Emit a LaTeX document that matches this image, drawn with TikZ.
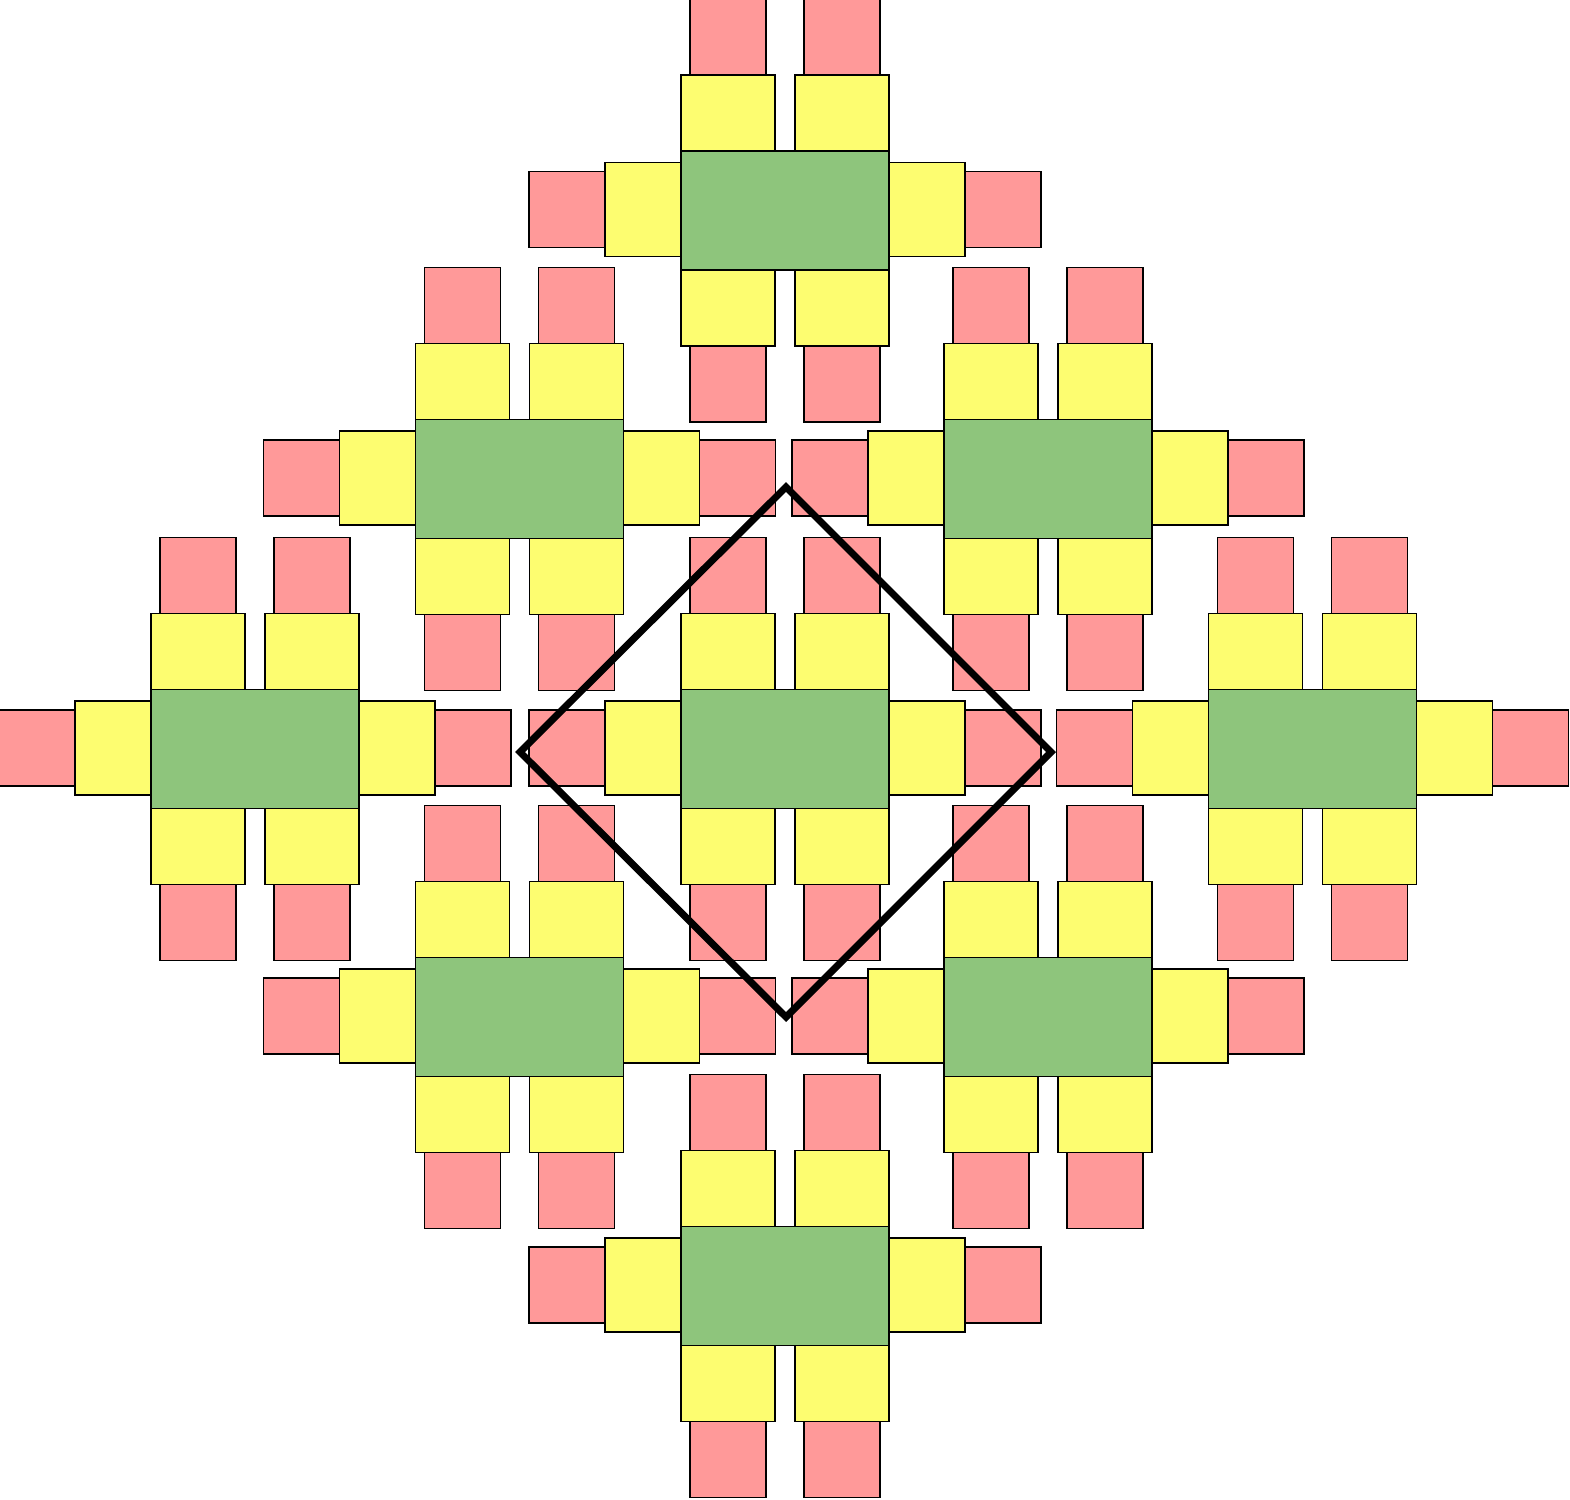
\documentclass[tikz,border=0pt]{standalone}
\usepackage{tikz}
\usetikzlibrary{positioning,calc}
\definecolor{tablegreen}{RGB}{142,197,124}
\definecolor{chairyellow}{RGB}{253,253,112}
\definecolor{stoolpink}{RGB}{255,153,153}
\begin{document}
\begin{tikzpicture}[x=0.01cm,y=-0.01cm]
\tikzstyle{tbl}=[draw,fill=tablegreen,line width=0.35pt,inner sep=0,minimum width=2.08cm,minimum height=1.19cm]
\tikzstyle{chair}=[draw,fill=chairyellow,line width=0.35pt,inner sep=0,minimum width=0.94cm,minimum height=0.76cm]
\tikzstyle{side}=[draw,fill=chairyellow,line width=0.35pt,inner sep=0,minimum width=0.76cm,minimum height=0.94cm]
\tikzstyle{stool}=[draw,fill=stoolpink,line width=0.35pt,inner sep=0,minimum width=0.76cm,minimum height=0.76cm]
\useasboundingbox (0,0) rectangle (1570,1499);
% nine table groups
\foreach \cx/\cy [count=\k] in {785/210.5, 519.5/479, 1048/479, 255/749, 785/749, 1312.5/749, 519.5/1017, 1048/1017, 785/1286}{
  \begin{scope}[shift={(\cx,\cy)}]
    \node[tbl] (t\k) at (0,0) {};
    \node[chair] (ca\k) at (-57,-97.5) {};
    \node[chair] (cb\k) at (57,-97.5) {};
    \node[chair] (cc\k) at (-57,97.5) {};
    \node[chair] (cd\k) at (57,97.5) {};
    \node[side] (cl\k) at (-142,-1) {};
    \node[side] (cr\k) at (142,-1) {};
    \node[stool] (sa\k) at (-57,-173.5) {};
    \node[stool] (sb\k) at (57,-173.5) {};
    \node[stool] (sc\k) at (-57,173.5) {};
    \node[stool] (sd\k) at (57,173.5) {};
    \node[stool] (sl\k) at (-218,-1) {};
    \node[stool] (sr\k) at (218,-1) {};
  \end{scope}
}
% selection square
\coordinate (dt) at (786,487);
\coordinate (dr) at (1051,752);
\coordinate (db) at (786,1017);
\coordinate (dl) at (520,752);
\draw[line width=2pt,line join=miter] (dt)--(dr)--(db)--(dl)--cycle;
\end{tikzpicture}
\end{document}
